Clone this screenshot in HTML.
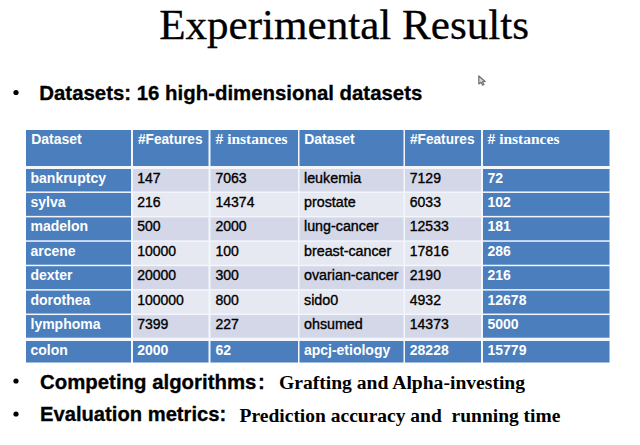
<!DOCTYPE html>
<html><head><meta charset="utf-8"><style>
html,body{margin:0;padding:0;background:#fff;width:640px;height:445px;overflow:hidden;position:relative}
#w{position:absolute;left:0;top:0;width:640px;height:445px}
</style></head><body>
<div id="w">
<svg width="640" height="445" style="position:absolute;left:0;top:0">
<rect x="26" y="130" width="583.5" height="232.5" fill="#f3f6fc"/>
<path d="M478.8 76 L478.8 84 L481 82.3 L482.6 85.2 L484 84.5 L482.5 81.7 L485.2 81.5 Z" fill="#d8d8d8" stroke="#707070" stroke-width="1.2" stroke-linejoin="round"/>
<rect x="26" y="130.00" width="105.00" height="36.00" fill="#4a7ebd"/><rect x="133" y="130.00" width="75.50" height="36.00" fill="#4a7ebd"/><rect x="210.5" y="130.00" width="87.50" height="36.00" fill="#4a7ebd"/><rect x="299.5" y="130.00" width="104.00" height="36.00" fill="#4a7ebd"/><rect x="405" y="130.00" width="76.00" height="36.00" fill="#4a7ebd"/><rect x="483" y="130.00" width="126.50" height="36.00" fill="#4a7ebd"/><rect x="26" y="169.00" width="105.00" height="22.45" fill="#4a7ebd"/><rect x="133" y="169.00" width="75.50" height="22.45" fill="#d3d7e7"/><rect x="210.5" y="169.00" width="87.50" height="22.45" fill="#d3d7e7"/><rect x="299.5" y="169.00" width="104.00" height="22.45" fill="#d3d7e7"/><rect x="405" y="169.00" width="76.00" height="22.45" fill="#d3d7e7"/><rect x="483" y="169.00" width="126.50" height="22.45" fill="#4a7ebd"/><rect x="26" y="192.95" width="105.00" height="22.92" fill="#4a7ebd"/><rect x="133" y="192.95" width="75.50" height="22.92" fill="#e6e9f1"/><rect x="210.5" y="192.95" width="87.50" height="22.92" fill="#e6e9f1"/><rect x="299.5" y="192.95" width="104.00" height="22.92" fill="#e6e9f1"/><rect x="405" y="192.95" width="76.00" height="22.92" fill="#e6e9f1"/><rect x="483" y="192.95" width="126.50" height="22.92" fill="#4a7ebd"/><rect x="26" y="217.37" width="105.00" height="22.92" fill="#4a7ebd"/><rect x="133" y="217.37" width="75.50" height="22.92" fill="#d3d7e7"/><rect x="210.5" y="217.37" width="87.50" height="22.92" fill="#d3d7e7"/><rect x="299.5" y="217.37" width="104.00" height="22.92" fill="#d3d7e7"/><rect x="405" y="217.37" width="76.00" height="22.92" fill="#d3d7e7"/><rect x="483" y="217.37" width="126.50" height="22.92" fill="#4a7ebd"/><rect x="26" y="241.79" width="105.00" height="22.92" fill="#4a7ebd"/><rect x="133" y="241.79" width="75.50" height="22.92" fill="#e6e9f1"/><rect x="210.5" y="241.79" width="87.50" height="22.92" fill="#e6e9f1"/><rect x="299.5" y="241.79" width="104.00" height="22.92" fill="#e6e9f1"/><rect x="405" y="241.79" width="76.00" height="22.92" fill="#e6e9f1"/><rect x="483" y="241.79" width="126.50" height="22.92" fill="#4a7ebd"/><rect x="26" y="266.21" width="105.00" height="22.92" fill="#4a7ebd"/><rect x="133" y="266.21" width="75.50" height="22.92" fill="#d3d7e7"/><rect x="210.5" y="266.21" width="87.50" height="22.92" fill="#d3d7e7"/><rect x="299.5" y="266.21" width="104.00" height="22.92" fill="#d3d7e7"/><rect x="405" y="266.21" width="76.00" height="22.92" fill="#d3d7e7"/><rect x="483" y="266.21" width="126.50" height="22.92" fill="#4a7ebd"/><rect x="26" y="290.63" width="105.00" height="22.92" fill="#4a7ebd"/><rect x="133" y="290.63" width="75.50" height="22.92" fill="#e6e9f1"/><rect x="210.5" y="290.63" width="87.50" height="22.92" fill="#e6e9f1"/><rect x="299.5" y="290.63" width="104.00" height="22.92" fill="#e6e9f1"/><rect x="405" y="290.63" width="76.00" height="22.92" fill="#e6e9f1"/><rect x="483" y="290.63" width="126.50" height="22.92" fill="#4a7ebd"/><rect x="26" y="315.05" width="105.00" height="22.65" fill="#4a7ebd"/><rect x="133" y="315.05" width="75.50" height="22.65" fill="#d3d7e7"/><rect x="210.5" y="315.05" width="87.50" height="22.65" fill="#d3d7e7"/><rect x="299.5" y="315.05" width="104.00" height="22.65" fill="#d3d7e7"/><rect x="405" y="315.05" width="76.00" height="22.65" fill="#d3d7e7"/><rect x="483" y="315.05" width="126.50" height="22.65" fill="#4a7ebd"/><rect x="26" y="341.00" width="105.00" height="21.50" fill="#4a7ebd"/><rect x="133" y="341.00" width="75.50" height="21.50" fill="#4a7ebd"/><rect x="210.5" y="341.00" width="87.50" height="21.50" fill="#4a7ebd"/><rect x="299.5" y="341.00" width="104.00" height="21.50" fill="#4a7ebd"/><rect x="405" y="341.00" width="76.00" height="21.50" fill="#4a7ebd"/><rect x="483" y="341.00" width="126.50" height="21.50" fill="#4a7ebd"/><circle cx="16" cy="92.5" r="2.6" fill="#000"/><circle cx="16" cy="381" r="2.6" fill="#000"/><circle cx="16" cy="414" r="2.6" fill="#000"/>
</svg>
<div style="position:absolute;left:31.20px;top:132.45px;font-family:'Liberation Sans', sans-serif;font-weight:700;font-size:14px;line-height:14px;color:#fff;white-space:pre;">Dataset</div>
<div style="position:absolute;left:137.50px;top:132.05px;font-family:'Liberation Sans', sans-serif;font-weight:700;font-size:14px;line-height:14px;color:#fff;white-space:pre;transform:scaleX(0.975);transform-origin:0 0;">#Features</div>
<div style="position:absolute;left:215.50px;top:130.92px;font-family:'Liberation Serif', serif;font-weight:700;font-size:15.5px;line-height:15.5px;color:#fff;white-space:pre;"># instances</div>
<div style="position:absolute;left:304.20px;top:132.45px;font-family:'Liberation Sans', sans-serif;font-weight:700;font-size:14px;line-height:14px;color:#fff;white-space:pre;">Dataset</div>
<div style="position:absolute;left:409.80px;top:132.05px;font-family:'Liberation Sans', sans-serif;font-weight:700;font-size:14px;line-height:14px;color:#fff;white-space:pre;transform:scaleX(0.975);transform-origin:0 0;">#Features</div>
<div style="position:absolute;left:487.50px;top:130.92px;font-family:'Liberation Serif', serif;font-weight:700;font-size:15.5px;line-height:15.5px;color:#fff;white-space:pre;"># instances</div>
<div style="position:absolute;left:30.50px;top:170.55px;font-family:'Liberation Sans', sans-serif;font-weight:700;font-size:14px;line-height:14px;color:#fff;white-space:pre;">bankruptcy</div>
<div style="position:absolute;left:137.20px;top:170.55px;font-family:'Liberation Sans', sans-serif;font-weight:400;font-size:14px;line-height:14px;color:#000;white-space:pre;-webkit-text-stroke:0.35px #000;">147</div>
<div style="position:absolute;left:215.50px;top:170.55px;font-family:'Liberation Sans', sans-serif;font-weight:400;font-size:14px;line-height:14px;color:#000;white-space:pre;-webkit-text-stroke:0.35px #000;">7063</div>
<div style="position:absolute;left:303.90px;top:170.55px;font-family:'Liberation Sans', sans-serif;font-weight:400;font-size:14px;line-height:14px;color:#000;white-space:pre;transform:scaleX(1.02);transform-origin:0 0;-webkit-text-stroke:0.35px #000;">leukemia</div>
<div style="position:absolute;left:409.80px;top:170.55px;font-family:'Liberation Sans', sans-serif;font-weight:400;font-size:14px;line-height:14px;color:#000;white-space:pre;-webkit-text-stroke:0.35px #000;">7129</div>
<div style="position:absolute;left:487.50px;top:170.55px;font-family:'Liberation Sans', sans-serif;font-weight:700;font-size:14px;line-height:14px;color:#fff;white-space:pre;">72</div>
<div style="position:absolute;left:30.50px;top:194.97px;font-family:'Liberation Sans', sans-serif;font-weight:700;font-size:14px;line-height:14px;color:#fff;white-space:pre;">sylva</div>
<div style="position:absolute;left:137.20px;top:194.97px;font-family:'Liberation Sans', sans-serif;font-weight:400;font-size:14px;line-height:14px;color:#000;white-space:pre;-webkit-text-stroke:0.35px #000;">216</div>
<div style="position:absolute;left:215.50px;top:194.97px;font-family:'Liberation Sans', sans-serif;font-weight:400;font-size:14px;line-height:14px;color:#000;white-space:pre;-webkit-text-stroke:0.35px #000;">14374</div>
<div style="position:absolute;left:303.90px;top:194.97px;font-family:'Liberation Sans', sans-serif;font-weight:400;font-size:14px;line-height:14px;color:#000;white-space:pre;transform:scaleX(1.02);transform-origin:0 0;-webkit-text-stroke:0.35px #000;">prostate</div>
<div style="position:absolute;left:409.80px;top:194.97px;font-family:'Liberation Sans', sans-serif;font-weight:400;font-size:14px;line-height:14px;color:#000;white-space:pre;-webkit-text-stroke:0.35px #000;">6033</div>
<div style="position:absolute;left:487.50px;top:194.97px;font-family:'Liberation Sans', sans-serif;font-weight:700;font-size:14px;line-height:14px;color:#fff;white-space:pre;">102</div>
<div style="position:absolute;left:30.50px;top:219.39px;font-family:'Liberation Sans', sans-serif;font-weight:700;font-size:14px;line-height:14px;color:#fff;white-space:pre;">madelon</div>
<div style="position:absolute;left:137.20px;top:219.39px;font-family:'Liberation Sans', sans-serif;font-weight:400;font-size:14px;line-height:14px;color:#000;white-space:pre;-webkit-text-stroke:0.35px #000;">500</div>
<div style="position:absolute;left:215.50px;top:219.39px;font-family:'Liberation Sans', sans-serif;font-weight:400;font-size:14px;line-height:14px;color:#000;white-space:pre;-webkit-text-stroke:0.35px #000;">2000</div>
<div style="position:absolute;left:303.90px;top:219.39px;font-family:'Liberation Sans', sans-serif;font-weight:400;font-size:14px;line-height:14px;color:#000;white-space:pre;transform:scaleX(1.02);transform-origin:0 0;-webkit-text-stroke:0.35px #000;">lung-cancer</div>
<div style="position:absolute;left:409.80px;top:219.39px;font-family:'Liberation Sans', sans-serif;font-weight:400;font-size:14px;line-height:14px;color:#000;white-space:pre;-webkit-text-stroke:0.35px #000;">12533</div>
<div style="position:absolute;left:487.50px;top:219.39px;font-family:'Liberation Sans', sans-serif;font-weight:700;font-size:14px;line-height:14px;color:#fff;white-space:pre;">181</div>
<div style="position:absolute;left:30.50px;top:243.81px;font-family:'Liberation Sans', sans-serif;font-weight:700;font-size:14px;line-height:14px;color:#fff;white-space:pre;">arcene</div>
<div style="position:absolute;left:137.20px;top:243.81px;font-family:'Liberation Sans', sans-serif;font-weight:400;font-size:14px;line-height:14px;color:#000;white-space:pre;-webkit-text-stroke:0.35px #000;">10000</div>
<div style="position:absolute;left:215.50px;top:243.81px;font-family:'Liberation Sans', sans-serif;font-weight:400;font-size:14px;line-height:14px;color:#000;white-space:pre;-webkit-text-stroke:0.35px #000;">100</div>
<div style="position:absolute;left:303.90px;top:243.81px;font-family:'Liberation Sans', sans-serif;font-weight:400;font-size:14px;line-height:14px;color:#000;white-space:pre;transform:scaleX(1.02);transform-origin:0 0;-webkit-text-stroke:0.35px #000;">breast-cancer</div>
<div style="position:absolute;left:409.80px;top:243.81px;font-family:'Liberation Sans', sans-serif;font-weight:400;font-size:14px;line-height:14px;color:#000;white-space:pre;-webkit-text-stroke:0.35px #000;">17816</div>
<div style="position:absolute;left:487.50px;top:243.81px;font-family:'Liberation Sans', sans-serif;font-weight:700;font-size:14px;line-height:14px;color:#fff;white-space:pre;">286</div>
<div style="position:absolute;left:30.50px;top:268.23px;font-family:'Liberation Sans', sans-serif;font-weight:700;font-size:14px;line-height:14px;color:#fff;white-space:pre;">dexter</div>
<div style="position:absolute;left:137.20px;top:268.23px;font-family:'Liberation Sans', sans-serif;font-weight:400;font-size:14px;line-height:14px;color:#000;white-space:pre;-webkit-text-stroke:0.35px #000;">20000</div>
<div style="position:absolute;left:215.50px;top:268.23px;font-family:'Liberation Sans', sans-serif;font-weight:400;font-size:14px;line-height:14px;color:#000;white-space:pre;-webkit-text-stroke:0.35px #000;">300</div>
<div style="position:absolute;left:303.90px;top:268.23px;font-family:'Liberation Sans', sans-serif;font-weight:400;font-size:14px;line-height:14px;color:#000;white-space:pre;transform:scaleX(1.02);transform-origin:0 0;-webkit-text-stroke:0.35px #000;">ovarian-cancer</div>
<div style="position:absolute;left:409.80px;top:268.23px;font-family:'Liberation Sans', sans-serif;font-weight:400;font-size:14px;line-height:14px;color:#000;white-space:pre;-webkit-text-stroke:0.35px #000;">2190</div>
<div style="position:absolute;left:487.50px;top:268.23px;font-family:'Liberation Sans', sans-serif;font-weight:700;font-size:14px;line-height:14px;color:#fff;white-space:pre;">216</div>
<div style="position:absolute;left:30.50px;top:292.65px;font-family:'Liberation Sans', sans-serif;font-weight:700;font-size:14px;line-height:14px;color:#fff;white-space:pre;">dorothea</div>
<div style="position:absolute;left:137.20px;top:292.65px;font-family:'Liberation Sans', sans-serif;font-weight:400;font-size:14px;line-height:14px;color:#000;white-space:pre;-webkit-text-stroke:0.35px #000;">100000</div>
<div style="position:absolute;left:215.50px;top:292.65px;font-family:'Liberation Sans', sans-serif;font-weight:400;font-size:14px;line-height:14px;color:#000;white-space:pre;-webkit-text-stroke:0.35px #000;">800</div>
<div style="position:absolute;left:303.90px;top:292.65px;font-family:'Liberation Sans', sans-serif;font-weight:400;font-size:14px;line-height:14px;color:#000;white-space:pre;transform:scaleX(1.02);transform-origin:0 0;-webkit-text-stroke:0.35px #000;">sido0</div>
<div style="position:absolute;left:409.80px;top:292.65px;font-family:'Liberation Sans', sans-serif;font-weight:400;font-size:14px;line-height:14px;color:#000;white-space:pre;-webkit-text-stroke:0.35px #000;">4932</div>
<div style="position:absolute;left:487.50px;top:292.65px;font-family:'Liberation Sans', sans-serif;font-weight:700;font-size:14px;line-height:14px;color:#fff;white-space:pre;">12678</div>
<div style="position:absolute;left:30.50px;top:317.07px;font-family:'Liberation Sans', sans-serif;font-weight:700;font-size:14px;line-height:14px;color:#fff;white-space:pre;">lymphoma</div>
<div style="position:absolute;left:137.20px;top:317.07px;font-family:'Liberation Sans', sans-serif;font-weight:400;font-size:14px;line-height:14px;color:#000;white-space:pre;-webkit-text-stroke:0.35px #000;">7399</div>
<div style="position:absolute;left:215.50px;top:317.07px;font-family:'Liberation Sans', sans-serif;font-weight:400;font-size:14px;line-height:14px;color:#000;white-space:pre;-webkit-text-stroke:0.35px #000;">227</div>
<div style="position:absolute;left:303.90px;top:317.07px;font-family:'Liberation Sans', sans-serif;font-weight:400;font-size:14px;line-height:14px;color:#000;white-space:pre;transform:scaleX(1.02);transform-origin:0 0;-webkit-text-stroke:0.35px #000;">ohsumed</div>
<div style="position:absolute;left:409.80px;top:317.07px;font-family:'Liberation Sans', sans-serif;font-weight:400;font-size:14px;line-height:14px;color:#000;white-space:pre;-webkit-text-stroke:0.35px #000;">14373</div>
<div style="position:absolute;left:487.50px;top:317.07px;font-family:'Liberation Sans', sans-serif;font-weight:700;font-size:14px;line-height:14px;color:#fff;white-space:pre;">5000</div>
<div style="position:absolute;left:30.50px;top:342.99px;font-family:'Liberation Sans', sans-serif;font-weight:700;font-size:14px;line-height:14px;color:#fff;white-space:pre;">colon</div>
<div style="position:absolute;left:137.20px;top:342.99px;font-family:'Liberation Sans', sans-serif;font-weight:700;font-size:14px;line-height:14px;color:#fff;white-space:pre;">2000</div>
<div style="position:absolute;left:215.50px;top:342.99px;font-family:'Liberation Sans', sans-serif;font-weight:700;font-size:14px;line-height:14px;color:#fff;white-space:pre;">62</div>
<div style="position:absolute;left:303.90px;top:342.99px;font-family:'Liberation Sans', sans-serif;font-weight:700;font-size:14px;line-height:14px;color:#fff;white-space:pre;">apcj-etiology</div>
<div style="position:absolute;left:409.80px;top:342.99px;font-family:'Liberation Sans', sans-serif;font-weight:700;font-size:14px;line-height:14px;color:#fff;white-space:pre;">28228</div>
<div style="position:absolute;left:487.50px;top:342.99px;font-family:'Liberation Sans', sans-serif;font-weight:700;font-size:14px;line-height:14px;color:#fff;white-space:pre;">15779</div>
<div style="position:absolute;left:159.20px;top:2.90px;font-family:'Liberation Serif', serif;font-weight:400;font-size:43.1px;line-height:43.1px;color:#000;white-space:pre;-webkit-text-stroke:0.3px #000;">Experimental Results</div>
<div style="position:absolute;left:39.30px;top:82.73px;font-family:'Liberation Sans', sans-serif;font-weight:700;font-size:20.4px;line-height:20.4px;color:#000;white-space:pre;-webkit-text-stroke:0.3px #000;">Datasets: 16 high-dimensional datasets</div>
<div style="position:absolute;left:40.00px;top:371.73px;font-family:'Liberation Sans', sans-serif;font-weight:700;font-size:20.4px;line-height:20.4px;color:#000;white-space:pre;-webkit-text-stroke:0.3px #000;">Competing algorithms</div>
<div style="position:absolute;left:258.00px;top:371.73px;font-family:'Liberation Sans', sans-serif;font-weight:700;font-size:20.4px;line-height:20.4px;color:#000;white-space:pre;-webkit-text-stroke:0.3px #000;">:</div>
<div style="position:absolute;left:279.00px;top:373.38px;font-family:'Liberation Serif', serif;font-weight:700;font-size:19.6px;line-height:19.6px;color:#000;white-space:pre;">Grafting and Alpha-investing</div>
<div style="position:absolute;left:40.00px;top:404.40px;font-family:'Liberation Sans', sans-serif;font-weight:700;font-size:20.2px;line-height:20.2px;color:#000;white-space:pre;-webkit-text-stroke:0.3px #000;">Evaluation metrics:</div>
<div style="position:absolute;left:239.60px;top:406.17px;font-family:'Liberation Serif', serif;font-weight:700;font-size:19.5px;line-height:19.5px;color:#000;white-space:pre;">Prediction accuracy and  running time</div>
</div>
</body></html>
